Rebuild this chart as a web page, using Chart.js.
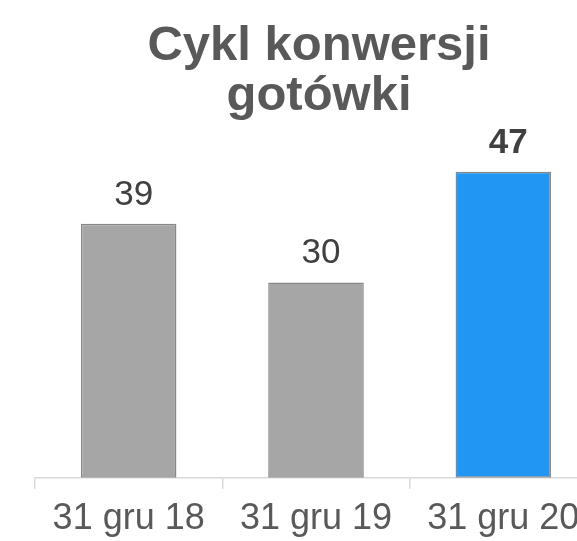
<!DOCTYPE html>
<html lang="pl">
<head>
<meta charset="utf-8">
<title>Cykl konwersji gotówki</title>
<script src="https://cdn.jsdelivr.net/npm/chart.js@4/dist/chart.umd.min.js"></script>
<style>
    html, body { margin: 0; padding: 0; background: #fff; overflow: hidden; width: 577px; height: 541px; }
    #wrap { position: relative; width: 640px; height: 550px; }
</style>
</head>
<body>
<div id="wrap"><canvas id="ccc"></canvas></div>
<script>
    // dane wykresu
    var titleLines = ["Cykl konwersji", "gotówki"];
    var categories = ["31 gru 18", "31 gru 19", "31 gru 20"];
    var values     = [39, 30, 47];

    var FONT = "'Liberation Sans', Arial, sans-serif";
    var GRAY = "#a6a6a6";
    var BLUE = "#2196f3";
    var last = values.length - 1;

    // tytuł w dwóch liniach, rysowany ręcznie (wyśrodkowany nad wykresem)
    var titlePlugin = {
        id: "titleLines",
        afterDraw: function (chart) {
            var c = chart.ctx;
            c.save();
            c.fillStyle = "#595959";
            c.font = "bold 49px " + FONT;
            c.textAlign = "center";
            c.textBaseline = "alphabetic";
            titleLines.forEach(function (t, i) {
                c.fillText(t, 319, 60 + i * 50);
            });
            c.restore();
        }
    };

    // etykiety wartości nad słupkami
    var valuePlugin = {
        id: "valueLabels",
        afterDatasetsDraw: function (chart) {
            var c = chart.ctx;
            var meta = chart.getDatasetMeta(0);
            c.save();
            c.textAlign = "center";
            c.textBaseline = "alphabetic";
            meta.data.forEach(function (bar, k) {
                c.font = (k === last ? "bold " : "") + "35px " + FONT;
                c.fillStyle = "#404040";
                c.fillText(String(values[k]), bar.x + 5, bar.y - 19);
            });
            c.restore();
        }
    };

    new Chart(document.getElementById("ccc").getContext("2d"), {
        type: "bar",
        data: {
            labels: categories,
            datasets: [{
                data: values,
                backgroundColor: values.map(function (_, k) { return k === last ? BLUE : GRAY; }),
                borderColor: "#878787",
                borderWidth: 1.5,
                borderSkipped: false,
                barPercentage: 0.51,
                categoryPercentage: 1
            }]
        },
        options: {
            responsive: true,
            maintainAspectRatio: false,
            animation: false,
            layout: { padding: { left: 35, right: 43, top: 87, bottom: 0 } },
            plugins: {
                legend: { display: false },
                title: { display: false },
                tooltip: { enabled: false }
            },
            scales: {
                y: { display: false, min: 0, max: 60 },
                x: {
                    grid: {
                        display: true,
                        drawOnChartArea: false,
                        tickLength: 11,
                        color: "#d9d9d9",
                        lineWidth: 1.5
                    },
                    border: { display: true, color: "#d9d9d9", width: 1.5 },
                    ticks: {
                        padding: 9,
                        color: "#595959",
                        font: { family: FONT, size: 36 }
                    }
                }
            }
        },
        plugins: [titlePlugin, valuePlugin]
    });
</script>
</body>
</html>
